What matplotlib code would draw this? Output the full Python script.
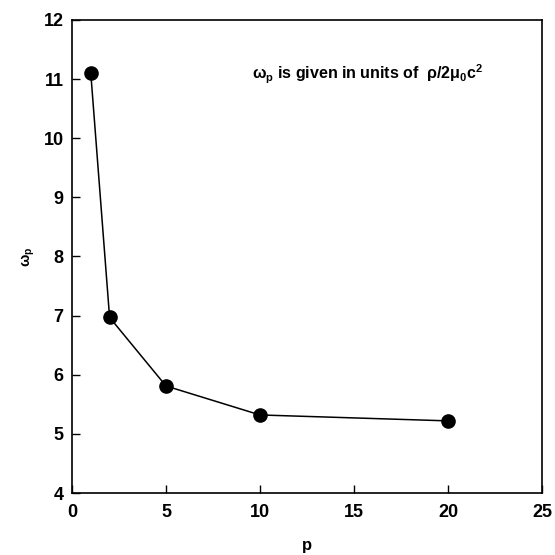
import matplotlib
matplotlib.use("Agg")
import matplotlib.pyplot as plt

# Data: mode index p and frequency omega_p
p_values = [1, 2, 5, 10, 20]
omega_p = [11.1, 6.97, 5.81, 5.32, 5.22]

x_ticks = [0, 5, 10, 15, 20, 25]
y_ticks = [4, 5, 6, 7, 8, 9, 10, 11, 12]

plt.rcParams['font.family'] = ['Liberation Sans', 'DejaVu Sans']
plt.rcParams['font.weight'] = 'bold'
plt.rcParams['mathtext.fontset'] = 'custom'
plt.rcParams['mathtext.rm'] = 'Liberation Sans:bold'
plt.rcParams['mathtext.it'] = 'Liberation Sans:bold'
plt.rcParams['mathtext.bf'] = 'Liberation Sans:bold'

fig = plt.figure(figsize=(5.55, 5.55), dpi=100)
ax = fig.add_axes([0.1297, 0.1117, 0.8469, 0.8523])

ax.plot(p_values, omega_p, color='black', lw=1.1, marker='o', ms=9.5,
        markerfacecolor='black', markeredgecolor='black')

ax.set_xlim(0, 25)
ax.set_ylim(4, 12)
ax.set_xticks(x_ticks)
ax.set_yticks(y_ticks)
ax.tick_params(direction='in', length=6, width=1.0, labelsize=13,
               top=False, right=False)
ax.tick_params(axis='x', pad=8)
ax.tick_params(axis='y', pad=6)
for lbl in ax.get_xticklabels() + ax.get_yticklabels():
    lbl.set_fontweight('bold')
for s in ax.spines.values():
    s.set_linewidth(1.2)

ax.set_xlabel('p', fontsize=12, fontweight='bold', labelpad=12)
ax.set_ylabel(r'$\omega_p$', fontsize=10.5, fontweight='bold', labelpad=5)

ax.text(9.6, 11.08, r'$\omega_p$ is given in units of  $\rho/2\mu_0c^2$',
        fontsize=11.5, fontweight='bold', ha='left', va='center')

fig.savefig('out.png', dpi=100)
